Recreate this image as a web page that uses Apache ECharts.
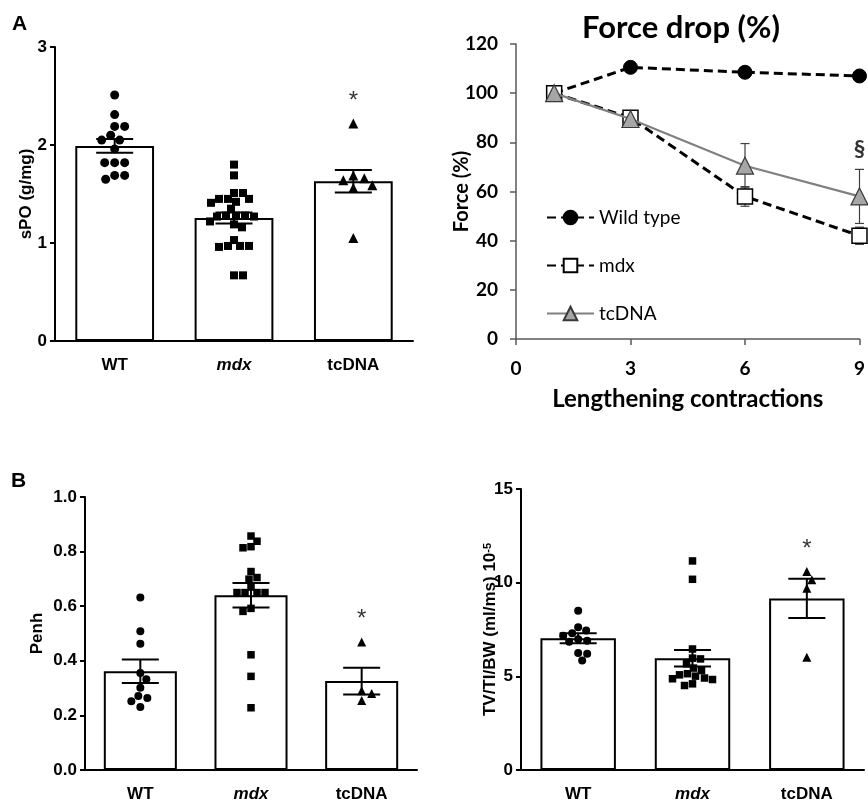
<!DOCTYPE html>
<html><head><meta charset="utf-8">
<script src="https://cdn.jsdelivr.net/npm/echarts@6/dist/echarts.min.js"></script>
<style>html,body{margin:0;padding:0;background:#fff}#c{width:868px;height:803px}</style>
</head><body><div id="c"></div>
<script>
// ---------- data ----------
const groups = ['WT', 'mdx', 'tcDNA'];

// Panel A (left): specific force sPO (g/mg)
const spoWT = [2.51, 2.31, 2.19, 2.19, 2.10, 2.05, 2.05, 1.96, 1.82, 1.82, 1.82, 1.69, 1.69, 1.65];
const spoMdx = [1.80, 1.69, 1.51, 1.51, 1.45, 1.45, 1.45, 1.42, 1.41, 1.35, 1.28, 1.28, 1.28, 1.27, 1.27, 1.22, 1.19, 1.16, 1.03, 0.97, 0.97, 0.97, 0.96, 0.67, 0.67];
const spoTc = [2.22, 1.69, 1.66, 1.64, 1.59, 1.56, 1.05];
const spoMean = [1.99, 1.255, 1.63];
const spoSem = [0.07, 0.055, 0.115];
const spoTicks = [0, 1, 2, 3];

// Panel A (right): force drop (%)
const contractions = [1, 3, 6, 9];
const forceWT = [100, 110.5, 108.5, 107];
const forceMdx = [100, 90, 58, 42];
const forceTc = [100, 89.5, 70.5, 58];
const forceErrWT = [0, 1, 1, 1];
const forceErrMdx = [0, 1, 4, 3.5];
const forceErrTc = [0, 1, 9, 11];
const forceXTicks = [0, 3, 6, 9];
const forceYTicks = [0, 20, 40, 60, 80, 100, 120];

// Panel B (left): Penh
const penhWT = [0.632, 0.508, 0.462, 0.355, 0.332, 0.301, 0.271, 0.264, 0.252, 0.231];
const penhMdx = [0.857, 0.838, 0.818, 0.814, 0.727, 0.705, 0.699, 0.67, 0.65, 0.65, 0.65, 0.65, 0.592, 0.581, 0.422, 0.343, 0.228];
const penhTc = [0.469, 0.29, 0.28, 0.255];
const penhMean = [0.362, 0.640, 0.326];
const penhSem = [0.043, 0.045, 0.049];
const penhTicks = [0, 0.2, 0.4, 0.6, 0.8, 1.0];

// Panel B (right): TV/TI/BW
const tvWT = [8.50, 7.62, 7.44, 7.30, 7.17, 6.98, 6.90, 6.85, 6.25, 6.20, 5.84];
const tvMdx = [11.16, 10.18, 6.46, 5.97, 5.93, 5.67, 5.44, 5.31, 5.14, 5.08, 5.01, 4.91, 4.87, 4.83, 4.60, 4.51];
const tvTc = [10.6, 10.15, 9.70, 6.02];
const tvMean = [7.03, 5.97, 9.16];
const tvSem = [0.27, 0.44, 1.05];
const tvTicks = [0, 5, 10, 15];

// ---------- styling / layout ----------
const PF = '"Liberation Sans", Arial, sans-serif';
const EF = 'Lato, "Open Sans", sans-serif';

const barPanels = [
  { grid: { left: 55, top: 47, width: 358, height: 294 }, ticks: spoTicks, name: 'sPO (g/mg)', nameGap: 20,
    pts: [spoWT, spoMdx, spoTc], mean: spoMean, sem: spoSem, sizes: [9, 8, 10], dec: 0 },
  { grid: { left: 85, top: 497, width: 332, height: 275 }, ticks: penhTicks, name: 'Penh', nameGap: 39,
    pts: [penhWT, penhMdx, penhTc], mean: penhMean, sem: penhSem, sizes: [8, 7.5, 9], dec: 1 },
  { grid: { left: 521, top: 489, width: 343, height: 283 }, ticks: tvTicks, name: 'TV/TI/BW (ml/ms) 10{sup|-5}', nameGap: 22,
    pts: [tvWT, tvMdx, tvTc], mean: tvMean, sem: tvSem, sizes: [8, 7.5, 9], dec: 0 }
];
const forceGrid = { left: 516, top: 44, width: 344, height: 295 };
const symbols = ['circle', 'rect', 'triangle'];

// deterministic beeswarm (pixel space) so points don't overlap
function swarm(vals, pxPerV, diam) {
  const placed = [];
  const out = [];
  let sumX = 0;
  vals.slice().sort((a, b) => b - a).forEach(v => {
    const y = v * pxPerV;
    let chosen = 0;
    for (let s = 0; s < 120; s++) {
      const cands = s === 0 ? [0] : (sumX > 0 ? [-s, s] : [s, -s]);
      let ok = null;
      for (const c of cands) {
        if (placed.every(p => (p.x - c) * (p.x - c) + (p.y - y) * (p.y - y) >= diam * diam)) { ok = c; break; }
      }
      if (ok !== null) { chosen = ok; break; }
    }
    placed.push({ x: chosen, y });
    sumX += chosen;
    out.push({ px: chosen, v });
  });
  return out;
}

function errorRender(capPx, lw, color) {
  return function (params, api) {
    const x = api.value(0), m = api.value(1), e = api.value(2);
    const t = api.coord([x, m + e]), b = api.coord([x, m - e]);
    const h = capPx / 2;
    const st = { stroke: color, lineWidth: lw };
    return {
      type: 'group', children: [
        { type: 'line', shape: { x1: t[0], y1: t[1], x2: b[0], y2: b[1] }, style: st },
        { type: 'line', shape: { x1: t[0] - h, y1: t[1], x2: t[0] + h, y2: t[1] }, style: st },
        { type: 'line', shape: { x1: b[0] - h, y1: b[1], x2: b[0] + h, y2: b[1] }, style: st }
      ]
    };
  };
}

const grids = [], xAxes = [], yAxes = [], series = [];

// force panel axes (grid 0)
grids.push(forceGrid);
const axisGrey = { color: '#595959', width: 1.5 };
xAxes.push({
  type: 'value', gridIndex: 0, min: forceXTicks[0], max: forceXTicks[forceXTicks.length - 1],
  interval: forceXTicks[1] - forceXTicks[0],
  axisLine: { show: true, onZero: false, lineStyle: axisGrey }, axisTick: { show: true, length: 6, lineStyle: axisGrey },
  splitLine: { show: false },
  axisLabel: { fontFamily: EF, fontWeight: 'bold', fontSize: 19, color: '#000', margin: 20 },
  name: 'Lengthening contractions', nameLocation: 'middle', nameGap: 48, nameMoveOverlap: false,
  nameTextStyle: { fontFamily: EF, fontWeight: 'bold', fontSize: 24, color: '#000' }
});
yAxes.push({
  type: 'value', gridIndex: 0, min: forceYTicks[0], max: forceYTicks[forceYTicks.length - 1],
  interval: forceYTicks[1] - forceYTicks[0],
  axisLine: { show: true, onZero: false, lineStyle: axisGrey }, axisTick: { show: true, length: 6, lineStyle: axisGrey },
  splitLine: { show: false },
  axisLabel: { fontFamily: EF, fontWeight: 'bold', fontSize: 19, color: '#000', margin: 18 },
  name: 'Force (%)', nameLocation: 'middle', nameGap: 44, nameRotate: 90, nameMoveOverlap: false,
  nameTextStyle: { fontFamily: EF, fontWeight: 'bold', fontSize: 20, color: '#000' }
});

const zip = (ys, es) => contractions.map((x, i) => [x, ys[i], es[i]]);
const fErr = errorRender(9, 1.2, '#404040');
[[forceWT, forceErrWT], [forceMdx, forceErrMdx], [forceTc, forceErrTc]].forEach(([ys, es]) => {
  series.push({ type: 'custom', xAxisIndex: 0, yAxisIndex: 0, z: 1, renderItem: fErr, data: zip(ys, es), silent: true });
});
series.push({
  name: 'Wild type', type: 'line', xAxisIndex: 0, yAxisIndex: 0, z: 3,
  data: contractions.map((x, i) => [x, forceWT[i]]),
  symbol: 'circle', symbolSize: 14,
  lineStyle: { color: '#000', width: 3, type: [9, 5] },
  itemStyle: { color: '#000', borderColor: '#000', borderWidth: 1 }
});
series.push({
  name: 'mdx', type: 'line', xAxisIndex: 0, yAxisIndex: 0, z: 4,
  data: contractions.map((x, i) => [x, forceMdx[i]]),
  symbol: 'rect', symbolSize: 15,
  lineStyle: { color: '#000', width: 3, type: [9, 5] },
  itemStyle: { color: '#fff', borderColor: '#000', borderWidth: 1.5 }
});
series.push({
  name: 'tcDNA', type: 'line', xAxisIndex: 0, yAxisIndex: 0, z: 5,
  data: contractions.map((x, i) => [x, forceTc[i]]),
  symbol: 'triangle', symbolSize: 17,
  lineStyle: { color: '#808080', width: 2.2 },
  itemStyle: { color: '#a6a6a6', borderColor: '#3a3a3a', borderWidth: 1.2 }
});
// § annotation above last tcDNA error bar
series.push({
  type: 'scatter', xAxisIndex: 0, yAxisIndex: 0, z: 6, silent: true,
  data: [[contractions[3], forceTc[3] + forceErrTc[3]]],
  symbol: 'circle', symbolSize: 1, itemStyle: { color: 'rgba(0,0,0,0)' },
  label: { show: true, formatter: '§', position: 'top', distance: 8, fontFamily: EF, fontWeight: 'bold', fontSize: 23, color: '#000' }
});

// bar panels
barPanels.forEach((p, k) => {
  const gi = grids.length;
  grids.push(p.grid);
  const xi = xAxes.length;
  xAxes.push({
    type: 'category', gridIndex: gi, data: groups,
    axisLine: { show: true, onZero: false, lineStyle: { color: '#000', width: 2 } }, axisTick: { show: false },
    axisLabel: {
      margin: 16, fontFamily: PF, fontWeight: 'bold', fontSize: 17, color: '#000',
      formatter: v => v === 'mdx' ? '{i|mdx}' : v,
      rich: { i: { fontFamily: PF, fontWeight: 'bold', fontStyle: 'italic', fontSize: 17, color: '#000' } }
    }
  });
  xAxes.push({ type: 'value', gridIndex: gi, min: -0.5, max: groups.length - 0.5, show: false });
  const yi = yAxes.length;
  const mn = p.ticks[0], mx = p.ticks[p.ticks.length - 1];
  yAxes.push({
    type: 'value', gridIndex: gi, min: mn, max: mx, interval: p.ticks[1] - p.ticks[0],
    axisLine: { show: true, onZero: false, lineStyle: { color: '#000', width: 2 } },
    axisTick: { show: true, length: 5, lineStyle: { color: '#000', width: 2 } },
    splitLine: { show: false },
    axisLabel: { fontFamily: PF, fontWeight: 'bold', fontSize: 17, color: '#000', margin: 8,
      formatter: v => v.toFixed(p.dec) },
    name: p.name, nameLocation: 'middle', nameGap: p.nameGap, nameRotate: 90, nameMoveOverlap: false,
    nameTextStyle: { fontFamily: PF, fontWeight: 'bold', fontSize: 17, color: '#000',
      rich: { sup: { fontFamily: PF, fontWeight: 'bold', fontSize: 11, color: '#000', verticalAlign: 'top', lineHeight: 10 } } }
  });
  series.push({
    type: 'bar', xAxisIndex: xi, yAxisIndex: yi, z: 2, barWidth: '66%', silent: true,
    data: p.mean,
    itemStyle: { color: '#fff', borderColor: '#000', borderWidth: 2 }
  });
  const pxPerV = p.grid.height / (mx - mn);
  const catW = p.grid.width / groups.length;
  p.pts.forEach((vals, g) => {
    const sw = swarm(vals, pxPerV, p.sizes[g] * 1.05);
    series.push({
      type: 'scatter', xAxisIndex: xi + 1, yAxisIndex: yi, z: 3, silent: true,
      symbol: symbols[g], symbolSize: p.sizes[g],
      itemStyle: { color: '#000', opacity: 1 },
      data: sw.map(d => [g + d.px / catW, d.v])
    });
  });
  series.push({
    type: 'custom', xAxisIndex: xi + 1, yAxisIndex: yi, z: 4, silent: true,
    renderItem: errorRender(37, 2, '#000'),
    data: p.mean.map((m, g) => [g, m, p.sem[g]])
  });
  // significance star above highest tcDNA point
  series.push({
    type: 'scatter', xAxisIndex: xi + 1, yAxisIndex: yi, z: 5, silent: true,
    data: [[2, Math.max(...p.pts[2])]],
    symbol: 'circle', symbolSize: 1, itemStyle: { color: 'rgba(0,0,0,0)' },
    label: { show: true, formatter: '*', position: 'top', distance: 10, fontFamily: PF, fontSize: 24, color: '#000' }
  });
});

const chart = echarts.init(document.getElementById('c'), null, { renderer: 'canvas' });
chart.setOption({
  animation: false,
  backgroundColor: '#fff',
  grid: grids,
  xAxis: xAxes,
  yAxis: yAxes,
  legend: {
    data: ['Wild type', 'mdx', 'tcDNA'], orient: 'vertical', left: 541, top: 203,
    itemWidth: 47, itemHeight: 17, itemGap: 29, selectedMode: false,
    textStyle: { fontFamily: EF, fontSize: 19, color: '#000' }
  },
  graphic: [
    { type: 'text', left: 12, top: 14, style: { text: 'A', font: 'bold 21px "Liberation Sans", Arial, sans-serif', fill: '#000' } },
    { type: 'text', left: 11, top: 471, style: { text: 'B', font: 'bold 21px "Liberation Sans", Arial, sans-serif', fill: '#000' } },
    { type: 'text', x: 681, y: 28, style: { text: 'Force drop (%)', font: 'bold 31px Lato, "Open Sans", sans-serif', fill: '#000', textAlign: 'center', textVerticalAlign: 'middle' } }
  ],
  series: series
});
</script>
</body></html>
